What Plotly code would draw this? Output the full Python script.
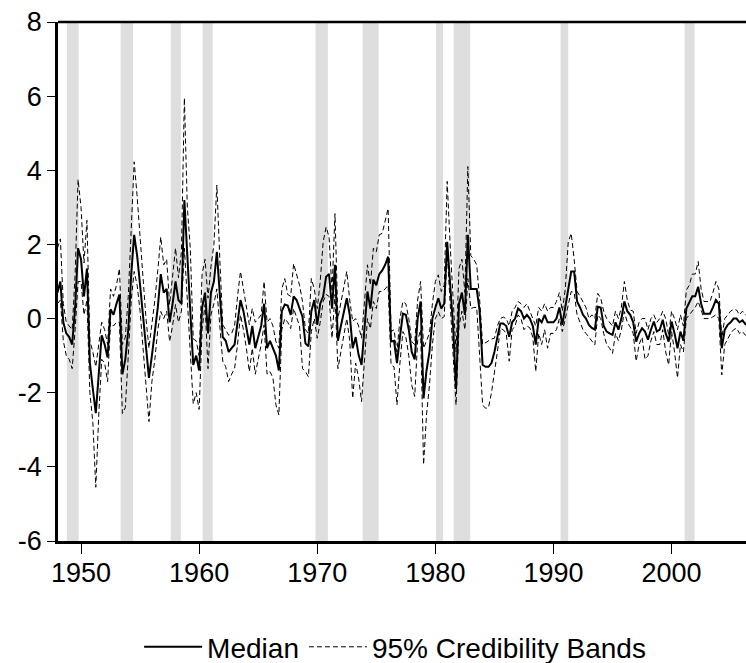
import plotly.graph_objects as go

start_year = 1948.0
median = [
    0.7, 1.0, -0.1, -0.4,   -0.5, -0.7, 0.3, 1.9,
    1.6, 0.6, 1.35, -1.2,   -1.9, -2.55, -1.5, -0.45,
    -0.7, -1.05, 0.25, 0.1,  0.4, 0.65, -1.5, -1.1,
    -0.3, 1.2, 2.26, 1.7,   0.9, 0.1, -0.8, -1.6,
    -1.0, -0.4, 0.3, 1.2,   0.7, 0.8, -0.1, 0.4,
    1.0, 0.5, 0.4, 3.2,     1.5, 0.2, -1.25, -1.0,
    -1.4, 0.3, 0.7, -0.4,   0.7, 1.0, 1.8, 0.6,
    -0.5, -0.6, -0.9, -0.8,  -0.7, -0.1, 0.5, 0.2,
    -0.2, -0.7, -0.2, -0.8,  -0.5, -0.2, 0.4, -0.8,
    -0.6, -0.8, -1.0, -1.4,  0.2, 0.38, 0.35, 0.1,
    0.6, 0.5, 0.27, 0.05,   -0.67, -0.75, 0.2, 0.5,
    -0.17, 0.4, 0.6, 1.13,  1.2, 0.27, 1.45, -0.6,
    -0.2, 0.2, 0.55, 0.1,   -0.8, -0.5, -0.98, -1.25,
    -0.3, 0.73, 0.27, 1.05,  0.9, 1.2, 1.3, 1.45,
    1.67, -0.62, -0.6, -1.2,  -0.5, 0.13, 0.1, -0.3,
    -0.9, -1.1, 0.0, 0.46,  -2.15, -1.4, -0.9, 0.0,
    0.3, 0.55, 0.27, 0.4,   2.07, 1.0, -0.2, -1.9,
    0.4, 0.7, 0.1, 2.26,    0.8, 0.8, 0.8, 0.2,
    -1.25, -1.3, -1.3, -1.2,  -0.9, -0.5, -0.13, -0.13,
    -0.2, -0.49, -0.1, 0.0,  0.27, 0.2, 0.0, 0.1,
    0.0, -0.2, -0.7, 0.0,   -0.1, 0.1, -0.1, -0.1,
    -0.1, 0.0, 0.3, -0.17,  0.3, 0.8, 1.27, 1.27,
    0.46, 0.3, 0.1, 0.0,    -0.17, -0.25, -0.3, 0.32,
    0.3, -0.2, -0.35, -0.4,  -0.44, -0.1, -0.3, 0.0,
    0.46, 0.2, 0.1, -0.1,   -0.62, -0.4, -0.26, -0.35,
    -0.57, -0.3, -0.08, -0.35,  -0.3, -0.03, -0.4, -0.62,
    -0.08, -0.4, -0.8, -0.35,  -0.6, 0.27, 0.46, 0.6,
    0.6, 0.86, 0.4, 0.13,   0.13, 0.13, 0.3, 0.5,
    0.4, -0.8, -0.3, -0.17,  -0.1, 0.0, 0.0, -0.1,
    -0.05, -0.15, -0.1,
]
upper = [
    1.9, 2.15, 0.4, -0.1,   -0.2, -0.3, 1.2, 3.75,
    3.0, 1.5, 2.65, -0.6,   -0.9, -1.3, -0.7, -0.1,
    -0.3, -0.7, 0.8, 0.6,   0.9, 1.35, -0.7, -0.5,
    0.6, 2.5, 4.23, 3.3,    2.2, 1.0, 0.0, -0.8,
    -0.2, 0.5, 1.3, 2.2,    1.45, 1.6, 0.38, 1.1,
    1.9, 1.1, 1.8, 5.95,    3.0, 1.9, -0.55, -0.6,
    -1.0, 1.2, 1.6, 0.55,   1.4, 2.0, 3.6, 1.6,
    -0.17, -0.3, -0.45, -0.4,  -0.2, 0.6, 1.27, 0.8,
    0.27, -0.17, 0.27, -0.1,  0.0, 0.1, 1.0, -0.1,
    0.0, -0.2, -0.62, -0.8,  0.8, 1.08, 0.65, 0.6,
    1.48, 1.2, 0.9, 0.46,   -0.3, -0.4, 1.08, 0.8,
    0.27, 1.0, 2.07, 2.47,  2.2, 0.73, 2.83, 0.0,
    0.46, 0.8, 1.27, 0.5,   -0.08, 0.0, -0.2, -0.53,
    0.4, 1.45, 0.9, 1.9,    1.8, 2.26, 2.3, 2.6,
    2.97, -0.35, -0.3, -0.9,  0.0, 0.46, 0.4, 0.0,
    -0.62, -0.7, 0.5, 1.0,  -0.8, -0.6, -0.4, 0.4,
    1.0, 1.18, 0.73, 0.9,   3.7, 2.0, 0.7, -0.9,
    1.35, 1.6, 0.7, 4.1,    1.7, 1.6, 1.45, 0.5,
    -0.7, -0.65, -0.6, -0.55,  -0.53, -0.2, 0.0, 0.04,
    0.0, -0.2, 0.2, 0.3,    0.46, 0.4, 0.3, 0.4,
    0.2, 0.0, -0.2, 0.3,    0.2, 0.4, 0.2, 0.3,
    0.3, 0.46, 0.7, 0.2,    0.8, 2.07, 2.3, 1.6,
    0.73, 0.6, 0.45, 0.3,   0.0, 0.1, 0.0, 0.68,
    0.55, 0.2, 0.0, -0.1,   -0.2, 0.2, 0.0, 0.3,
    1.0, 0.5, 0.23, 0.2,    -0.4, -0.1, 0.0, 0.0,
    -0.3, 0.0, 0.1, -0.1,   0.0, 0.2, 0.0, -0.44,
    0.2, 0.0, -0.3, 0.1,    -0.2, 0.77, 0.9, 1.2,
    1.2, 1.54, 0.8, 0.46,   0.46, 0.46, 0.7, 1.0,
    0.8, -0.53, 0.0, 0.1,   0.2, 0.25, 0.23, 0.1,
    0.2, 0.1, 0.1,
]
lower = [
    0.4, 0.5, -0.6, -1.0,   -1.1, -1.35, -0.3, 1.0,
    1.0, 0.1, 0.5, -2.0,    -2.8, -4.55, -2.6, -1.1,
    -1.2, -1.7, -0.1, -0.2,  -0.1, -0.1, -2.56, -2.4,
    -1.0, 0.5, 1.27, 0.9,   0.2, -0.8, -1.8, -2.78,
    -1.7, -1.1, -0.3, 0.19,  0.0, 0.2, -0.62, -0.2,
    0.38, -0.1, 0.2, 1.9,   0.5, -1.1, -2.3, -2.0,
    -2.45, -0.3, 0.38, -1.35,  0.1, 0.4, 0.8, -0.2,
    -1.15, -1.3, -1.7, -1.5,  -1.35, -0.7, 0.1, -0.3,
    -0.8, -1.43, -0.8, -1.5,  -1.1, -0.7, -0.17, -1.5,
    -1.43, -1.6, -2.33, -2.6,  -0.3, 0.0, -0.1, -0.27,
    0.27, 0.0, -0.2, -1.35,  -1.43, -1.57, -0.35, 0.0,
    -0.53, -0.1, 0.46, 0.65,  0.6, -0.53, 0.65, -1.35,
    -0.9, -0.4, 0.0, -0.6,  -2.15, -1.2, -1.6, -2.24,
    -1.0, 0.0, -0.27, 0.46,  0.27, 0.73, 0.73, 0.8,
    0.9, -1.25, -1.3, -2.33,  -1.2, -0.35, -0.5, -1.0,
    -1.8, -2.1, -0.6, -0.3,  -3.94, -2.6, -1.8, -0.7,
    0.0, 0.18, 0.0, 0.05,   1.8, 0.3, -0.9, -2.33,
    -0.2, 0.2, -0.3, 1.08,  0.27, 0.3, 0.3, -0.98,
    -2.33, -2.42, -2.4, -2.0,  -1.5, -0.9, -0.27, -0.3,
    -0.4, -1.15, -0.3, -0.2,  0.1, 0.0, -0.3, -0.2,
    -0.25, -0.5, -1.43, -0.4,  -0.7, -0.3, -0.8, -0.4,
    -0.4, -0.3, 0.0, -0.35,  0.0, 0.4, 0.73, 0.7,
    0.1, -0.1, -0.3, -0.4,  -0.5, -0.6, -0.71, 0.1,
    0.0, -0.4, -0.7, -0.8,  -0.94, -0.4, -0.6, -0.3,
    0.19, -0.1, -0.23, -0.4,  -1.15, -0.7, -0.5, -1.1,
    -1.0, -0.6, -0.35, -0.7,  -0.7, -0.3, -0.9, -1.25,
    -0.35, -0.9, -1.6, -0.7,  -0.9, 0.0, 0.1, 0.23,
    0.3, 0.46, 0.2, 0.0,    0.0, 0.0, 0.05, 0.1,
    0.0, -1.52, -0.7, -0.53,  -0.4, -0.3, -0.26, -0.4,
    -0.35, -0.45, -0.45,
]
rec_start = [1948.8, 1953.35, 1957.6, 1960.3, 1969.85, 1973.85, 1980.05, 1981.55, 1990.6, 2001.1]
rec_end = [1949.8, 1954.4, 1958.45, 1961.15, 1970.9, 1975.2, 1980.65, 1982.95, 1991.25, 2001.95]
x_ticks = [1950, 1960, 1970, 1980, 1990, 2000]
y_ticks = [-6, -4, -2, 0, 2, 4, 6, 8]

dates = [start_year + i / 4 for i in range(len(median))]

fig = go.Figure()
fig.add_trace(go.Scatter(x=dates, y=median, mode="lines", name="Median",
                         line=dict(color="black", width=2)))
fig.add_trace(go.Scatter(x=dates, y=upper, mode="lines", name="95% Credibility Bands",
                         legendgroup="bands",
                         line=dict(color="black", width=1, dash="5px,3px")))
fig.add_trace(go.Scatter(x=dates, y=lower, mode="lines", name="95% Credibility Bands",
                         legendgroup="bands", showlegend=False,
                         line=dict(color="black", width=1, dash="5px,3px")))

for s, e in zip(rec_start, rec_end):
    fig.add_shape(type="rect", xref="x", yref="paper", x0=s, x1=e, y0=0, y1=1,
                  fillcolor="#DEDEDE", line=dict(width=0), layer="below")
fig.add_shape(type="line", xref="paper", yref="paper", x0=0, x1=1, y0=1, y1=1,
              line=dict(color="black", width=2.5))

font = "Liberation Sans, Arial, sans-serif"
fig.update_layout(
    width=746, height=663,
    margin=dict(l=58, r=0, t=22, b=122, autoexpand=False),
    paper_bgcolor="white", plot_bgcolor="white",
    font=dict(family=font, color="black", size=27),
    showlegend=True,
    legend=dict(orientation="h", x=0.49, xanchor="center",
                yref="container", y=0.024, yanchor="middle",
                font=dict(size=28, family=font), itemwidth=58, bgcolor="rgba(0,0,0,0)"),
    xaxis=dict(range=[1948.05, 2006.3], tickvals=x_ticks, ticktext=[str(v) for v in x_ticks],
               ticks="outside", ticklen=10, tickwidth=1, tickcolor="black",
               showline=True, linewidth=2.5, linecolor="black", showgrid=False,
               zeroline=False, tickfont=dict(size=27), ticklabelstandoff=-4),
    yaxis=dict(range=[-6, 8], tickvals=y_ticks, ticktext=[str(v) for v in y_ticks],
               ticks="outside", ticklen=8, tickwidth=1, tickcolor="black",
               showline=True, linewidth=2.5, linecolor="black", showgrid=False,
               zeroline=False, tickfont=dict(size=27)),
)
fig.write_html("out.html")
